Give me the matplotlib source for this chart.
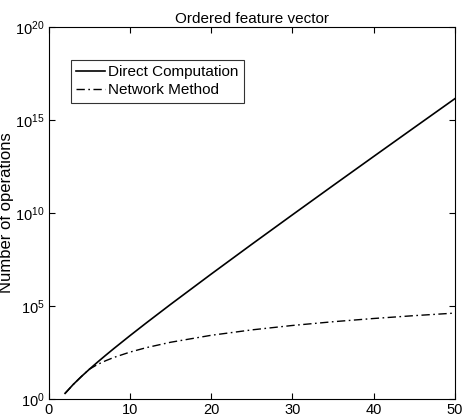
import matplotlib
matplotlib.use("Agg")
import matplotlib.pyplot as plt
from matplotlib.ticker import NullLocator, FixedLocator

plt.rcParams['font.family'] = ['Liberation Sans', 'DejaVu Sans']
plt.rcParams['mathtext.fontset'] = 'custom'
plt.rcParams['mathtext.rm'] = 'Liberation Sans'

# data
n_values = [2, 3, 4, 5, 6, 7, 8, 10, 12, 15, 20, 25, 30, 35, 40, 45, 50]
direct_ops = [2, 6, 16, 40, 96, 224, 512, 2560, 12288, 1.23e5, 5.24e6,
              2.10e8, 8.05e9, 3.01e11, 1.10e13, 3.96e14, 1.41e16]
network_ops = [2, 6, 16, 40, 72, 114, 171, 333, 576, 1125, 2667,
               5208, 9000, 14292, 21333, 30375, 41667]
title = "Ordered feature vector"
ylabel = "Number of operations"
legend_labels = ["Direct Computation", "Network Method"]
x_ticks = [0, 10, 20, 30, 40, 50]
y_ticks = [1e0, 1e5, 1e10, 1e15, 1e20]

fig = plt.figure(figsize=(4.65, 4.18), dpi=100)
ax = fig.add_axes([0.105, 0.0455, 0.873, 0.8895])

ax.plot(n_values, network_ops, color='black', lw=1.0,
        linestyle=(0, (6, 2.5, 1.2, 2.5)), label=legend_labels[1])
ax.plot(n_values, direct_ops, color='black', lw=1.2, label=legend_labels[0])

ax.set_yscale('log')
ax.set_xlim(0, 50)
ax.set_ylim(1e0, 1e20)
ax.xaxis.set_major_locator(FixedLocator(x_ticks))
ax.yaxis.set_major_locator(FixedLocator(y_ticks))
ax.yaxis.set_minor_locator(NullLocator())
ax.xaxis.set_minor_locator(NullLocator())
ax.tick_params(direction='in', top=True, right=True, length=4, width=0.8,
               labelsize=10.5, pad=3)
for s in ax.spines.values():
    s.set_linewidth(0.8)

ax.set_title(title, fontsize=11, pad=3)
ax.set_ylabel(ylabel, fontsize=12)
ax.yaxis.set_label_coords(-0.085, 0.5)

handles, labels = ax.get_legend_handles_labels()
leg = ax.legend(handles[::-1], labels[::-1], loc='upper left',
                bbox_to_anchor=(0.054, 0.913), fontsize=11, frameon=True,
                fancybox=False, edgecolor='black', handlelength=1.9,
                handletextpad=0.2, borderpad=0.35, labelspacing=0.3,
                borderaxespad=0)
leg.get_frame().set_linewidth(0.8)

fig.savefig("out.png", dpi=100)
